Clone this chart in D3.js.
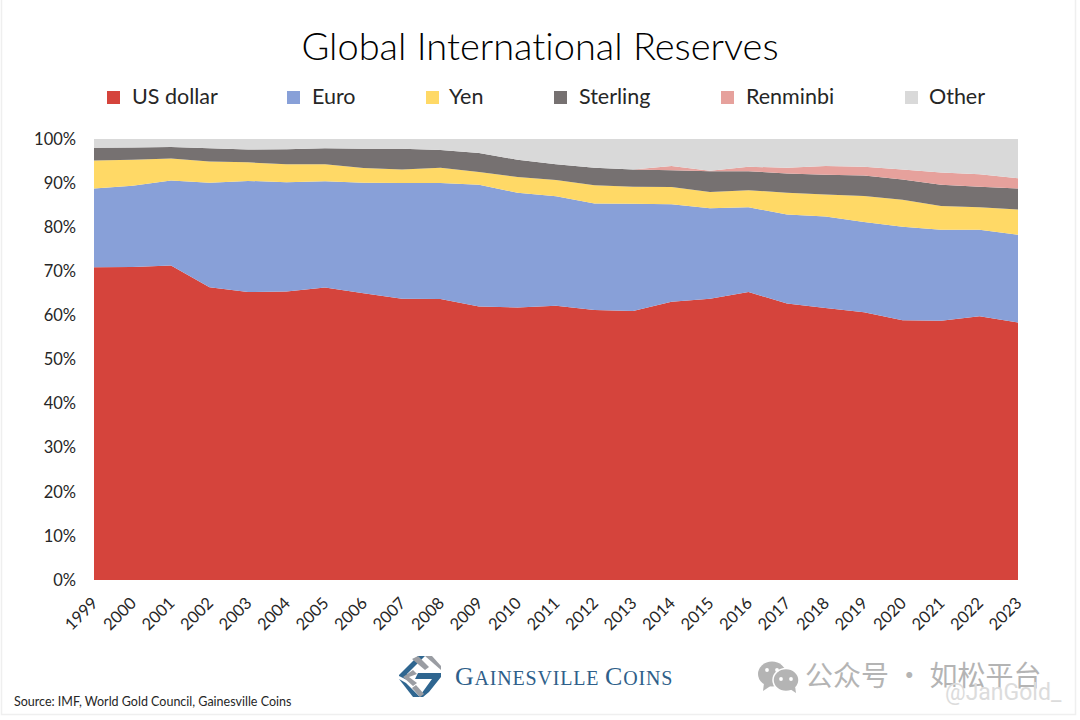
<!DOCTYPE html>
<html><head><meta charset="utf-8">
<script src="https://cdn.jsdelivr.net/npm/d3@7/dist/d3.min.js"></script>
<style>
html,body{margin:0;padding:0;background:#fff;overflow:hidden}
svg{display:block;font-family:Lato,"Open Sans",sans-serif;font-variant-ligatures:none}
</style></head><body>
<svg id="c" width="1080" height="720"></svg>
<script>
const years = [1999,2000,2001,2002,2003,2004,2005,2006,2007,2008,2009,2010,2011,2012,2013,2014,2015,2016,2017,2018,2019,2020,2021,2022,2023];
const usDollar = [70.9,71.0,71.3,66.4,65.3,65.4,66.3,65.0,63.8,63.7,62.0,61.8,62.2,61.2,61.0,63.1,63.8,65.3,62.7,61.7,60.7,58.9,58.8,59.8,58.4];
const euro = [17.9,18.4,19.3,23.7,25.2,24.8,24.1,25.1,26.2,26.3,27.6,26.0,24.8,24.2,24.3,22.1,20.5,19.2,20.2,20.7,20.5,21.2,20.6,19.6,19.9];
const yen = [6.3,5.9,5.0,4.8,4.2,4.1,3.9,3.3,3.1,3.5,2.9,3.6,3.7,4.1,3.9,3.9,3.7,3.9,4.9,5.0,5.9,6.1,5.4,5.1,5.7];
const sterling = [2.9,2.8,2.6,3.0,2.9,3.4,3.6,4.4,4.7,4.0,4.3,3.9,3.6,4.0,3.9,3.8,4.7,4.3,4.4,4.5,4.6,4.6,4.8,4.7,4.8];
const renminbi = [0,0,0,0,0,0,0,0,0,0,0,0,0,0,0,1.0,0.1,1.0,1.3,2.0,2.0,2.3,2.8,2.8,2.3];
const other = [2.0,1.9,1.8,2.1,2.4,2.3,2.1,2.2,2.2,2.5,3.2,4.7,5.7,6.5,6.9,6.1,7.2,6.3,6.5,6.1,6.3,6.9,7.6,8.0,8.9];
const seriesNames = ["US dollar","Euro","Yen","Sterling","Renminbi","Other"];
const seriesColors = ["#d5443c","#88a0d8","#ffd966","#767171","#e6a19c","#d9d9d9"];
const yTicks = [0,10,20,30,40,50,60,70,80,90,100];
const titleText = "Global International Reserves";
const sourceText = "Source: IMF, World Gold Council, Gainesville Coins";

const svg = d3.select("#c");
// faint image frame
svg.append("path").attr("d","M1.5 0V714.5H1075.5V0").attr("fill","none").attr("stroke","#efefef").attr("stroke-width",1.5);

const x = d3.scalePoint().domain(years).range([94,1018]);
const y = d3.scaleLinear().domain([0,100]).range([580,139]);

const values = [usDollar,euro,yen,sterling,renminbi,other];
const rows = years.map((yr,i)=>{const r={year:yr};seriesNames.forEach((n,j)=>r[n]=values[j][i]);return r;});
const stacked = d3.stack().keys(seriesNames)(rows);
const area = d3.area().x(d=>x(d.data.year)).y0(d=>y(d[0])).y1(d=>y(d[1]));
svg.append("g").selectAll("path").data(stacked).join("path")
  .attr("d",area).attr("fill",(d,i)=>seriesColors[i]);

const yAxis = svg.append("g").attr("transform","translate(94,0)")
  .call(d3.axisLeft(y).tickValues(yTicks).tickFormat(d=>d+"%").tickSize(0).tickPadding(18));
yAxis.select(".domain").remove();
yAxis.selectAll("text").attr("font-size",16.5).attr("font-family","Lato").attr("fill","#262626");

const xAxis = svg.append("g").attr("transform","translate(0,580)")
  .call(d3.axisBottom(x).tickSize(0).tickFormat(d3.format("d")));
xAxis.select(".domain").remove();
xAxis.selectAll("text").attr("font-size",16.5).attr("font-family","Lato").attr("fill","#262626")
  .attr("text-anchor","end").attr("dx",0).attr("dy",0).attr("y",0)
  .attr("transform","translate(0,20) rotate(-45)").attr("dominant-baseline","central");

svg.append("text").attr("x",540).attr("y",60).attr("text-anchor","middle")
  .attr("font-size",38).attr("font-weight",300).attr("fill","#000").text(titleText);

const legendSwatchX = [107,287,426,554,721,905];
const legendTextX = [132,312,449,579,746,929];
const leg = svg.append("g");
seriesNames.forEach((n,i)=>{
  leg.append("rect").attr("x",legendSwatchX[i]).attr("y",91).attr("width",13).attr("height",13).attr("fill",seriesColors[i]);
  leg.append("text").attr("x",legendTextX[i]).attr("y",104).attr("font-size",21.5).attr("fill","#262626").text(n);
});

svg.append("text").attr("x",14).attr("y",706).attr("font-size",12.5).attr("fill","#262626").text(sourceText);

// Logo
const logo = svg.append("g").attr("transform","translate(399,656)");
const blue="#2f6690", grey="#9a9da3";
[["M19 0L26 0L8 18L8 24L0 20L0 19Z",blue],
 ["M0 23L7 27L21 41L14 41Z",blue],
 ["M26 0L33 0L42 10L42 14Z",grey],
 ["M19 0L30 11L26 14L13 3Z",grey],
 ["M14 14L18 18L10 21L18 27L14 30L4 21Z",grey],
 ["M19 17H42L42 21L30 36L24 41H20L33 23H16Z",blue],
 ["M13 32L17 29L25 38L21 41Z",grey]
].forEach(p=>logo.append("path").attr("d",p[0]).attr("fill",p[1]));

const brand = svg.append("text").attr("x",455).attr("y",685).attr("font-family","'Liberation Serif',serif").attr("fill","#2f5f8a").attr("letter-spacing",0.8);
[["G",26],["AINESVILLE ",20],["C",26],["OINS",20]].forEach(t=>brand.append("tspan").attr("font-size",t[1]).text(t[0]));

// Watermark
const wm = svg.append("g").attr("fill","#b4b4b4");
wm.append("ellipse").attr("cx",772).attr("cy",674).attr("rx",14).attr("ry",12.5);
wm.append("path").attr("d","M764 683L763 691L772 685Z");
wm.append("ellipse").attr("cx",786).attr("cy",680).attr("rx",13).attr("ry",11.5).attr("stroke","#fff").attr("stroke-width",1.5);
wm.append("path").attr("d","M790 689L796 693L795 686Z");
[[767,670],[777,670],[781,679],[791,679]].forEach(d=>wm.append("circle").attr("cx",d[0]).attr("cy",d[1]).attr("r",1.9).attr("fill","#fff"));
svg.append("text").attr("x",805).attr("y",686).attr("font-family","'Noto Sans CJK SC'").attr("font-size",28).attr("fill","#b4b4b4").text("公众号 · 如松平台");
svg.append("text").attr("x",945).attr("y",700).attr("font-family","Roboto").attr("font-size",23).attr("fill","#dcdcdc").text("@JanGold_");
</script>
</body></html>
